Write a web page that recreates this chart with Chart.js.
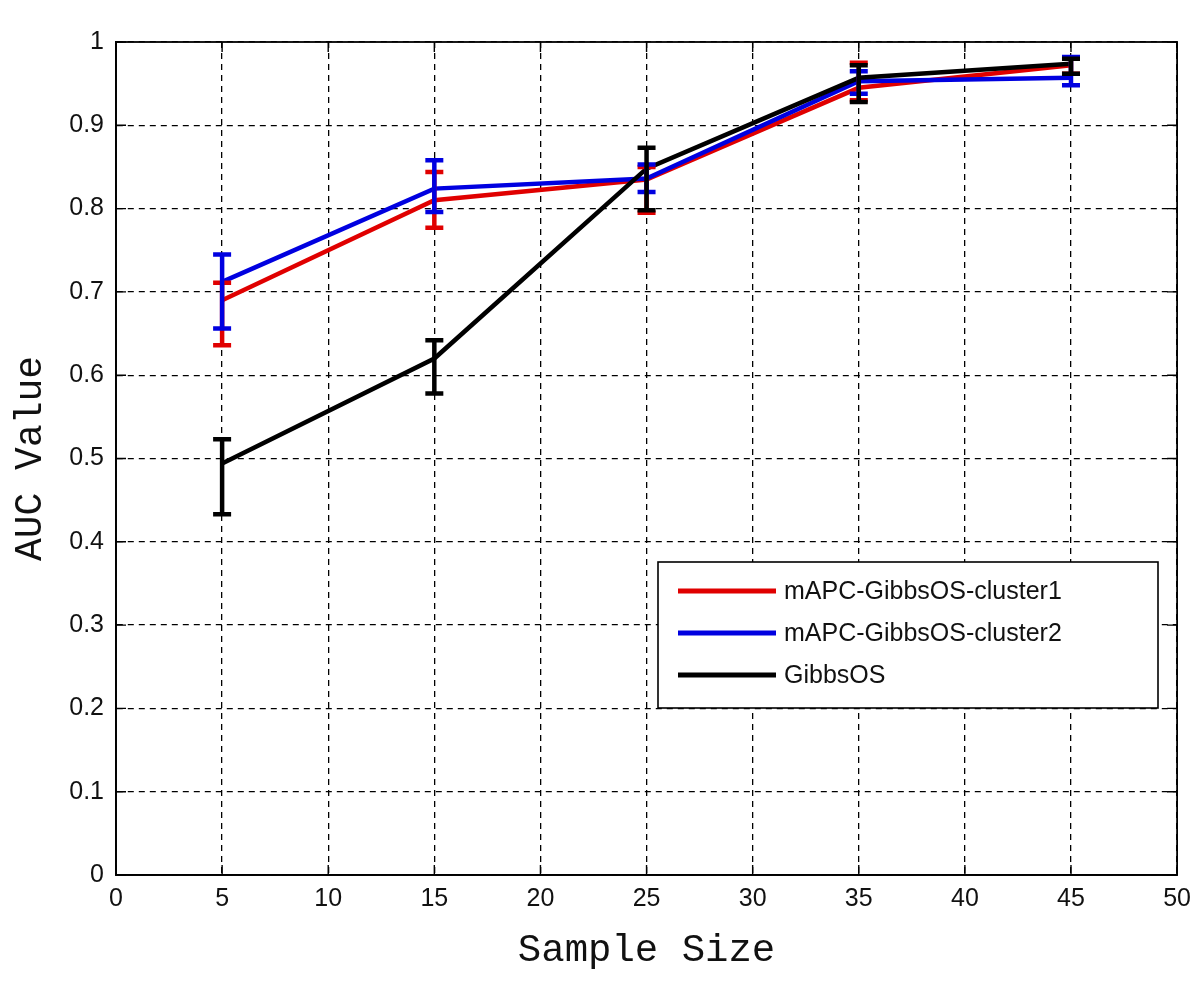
<!DOCTYPE html>
<html>
<head>
<meta charset="utf-8">
<script src="https://cdn.jsdelivr.net/npm/chart.js@4"></script>
<style>
  html, body { margin: 0; padding: 0; background: #fff; }
  #wrap { width: 1200px; height: 982px; }
</style>
</head>
<body>
<div id="wrap"><canvas id="myChart" width="1200" height="982"></canvas></div>
<script>
// sample sizes
var sampleSizes = [5, 15, 25, 35, 45];

// mAPC-GibbsOS-cluster1
var cluster1Mean  = [0.690, 0.810, 0.835, 0.945, 0.972];
var cluster1Upper = [0.711, 0.844, 0.850, 0.975, 0.980];
var cluster1Lower = [0.636, 0.777, 0.795, 0.930, 0.962];

// mAPC-GibbsOS-cluster2
var cluster2Mean  = [0.712, 0.824, 0.836, 0.953, 0.957];
var cluster2Upper = [0.745, 0.858, 0.853, 0.965, 0.982];
var cluster2Lower = [0.656, 0.796, 0.820, 0.938, 0.948];

// GibbsOS
var gibbsMean  = [0.494, 0.620, 0.848, 0.957, 0.974];
var gibbsUpper = [0.523, 0.642, 0.873, 0.972, 0.980];
var gibbsLower = [0.433, 0.578, 0.798, 0.928, 0.962];

var xTicks = [0, 5, 10, 15, 20, 25, 30, 35, 40, 45, 50];
var yTicks = [0, 0.1, 0.2, 0.3, 0.4, 0.5, 0.6, 0.7, 0.8, 0.9, 1];

function pts(ys) {
    return sampleSizes.map(function (x, i) { return {x: x, y: ys[i]}; });
}

var errorBars = {
    id: 'errorBars',
    afterDatasetsDraw: function (chart) {
        var ctx = chart.ctx;
        var xs = chart.scales.x, ys = chart.scales.y;
        // draw red, blue, black in that order
        [0, 1, 2].forEach(function (di) {
            var ds = chart.data.datasets[di];
            ctx.save();
            ctx.strokeStyle = ds.borderColor;
            ctx.lineWidth = 4.5;
            sampleSizes.forEach(function (x, i) {
                var px = xs.getPixelForValue(x);
                var top = ys.getPixelForValue(ds.upper[i]);
                var bot = ys.getPixelForValue(ds.lower[i]);
                ctx.beginPath();
                ctx.moveTo(px, top); ctx.lineTo(px, bot);
                ctx.moveTo(px - 9, top); ctx.lineTo(px + 9, top);
                ctx.moveTo(px - 9, bot); ctx.lineTo(px + 9, bot);
                ctx.stroke();
            });
            ctx.restore();
        });
    }
};

var frame = {
    id: 'frame',
    afterDraw: function (chart) {
        var ctx = chart.ctx, a = chart.chartArea;
        var xs = chart.scales.x, ys = chart.scales.y;
        ctx.save();
        ctx.strokeStyle = '#000';
        ctx.lineWidth = 1.8;
        ctx.strokeRect(a.left, a.top, a.right - a.left, a.bottom - a.top);
        // inward ticks on all sides
        ctx.lineWidth = 1.4;
        ctx.beginPath();
        xTicks.forEach(function (v) {
            var px = xs.getPixelForValue(v);
            ctx.moveTo(px, a.bottom); ctx.lineTo(px, a.bottom - 10);
            ctx.moveTo(px, a.top); ctx.lineTo(px, a.top + 10);
        });
        yTicks.forEach(function (v) {
            var py = ys.getPixelForValue(v);
            ctx.moveTo(a.left, py); ctx.lineTo(a.left + 10, py);
            ctx.moveTo(a.right, py); ctx.lineTo(a.right - 10, py);
        });
        ctx.stroke();

        // legend box
        var lx = 658, ly = 562, lw = 500, lh = 146;
        ctx.fillStyle = '#fff';
        ctx.fillRect(lx, ly, lw, lh);
        ctx.lineWidth = 1.6;
        ctx.strokeRect(lx, ly, lw, lh);
        ctx.font = '25px "Liberation Sans", Arial, sans-serif';
        ctx.textBaseline = 'middle';
        ctx.textAlign = 'left';
        chart.data.datasets.forEach(function (ds, i) {
            var y = 591 + i * 42;
            ctx.strokeStyle = ds.borderColor;
            ctx.lineWidth = 5;
            ctx.beginPath();
            ctx.moveTo(678, y); ctx.lineTo(776, y);
            ctx.stroke();
            ctx.fillStyle = '#111';
            ctx.fillText(ds.label, 784, y + 1);
        });
        ctx.restore();
    }
};

var ctx = document.getElementById('myChart').getContext('2d');
var myChart = new Chart(ctx, {
    type: 'line',
    data: {
        datasets: [{
            label: 'mAPC-GibbsOS-cluster1',
            data: pts(cluster1Mean),
            upper: cluster1Upper,
            lower: cluster1Lower,
            borderColor: '#e00000',
            backgroundColor: '#e00000',
            order: 3
        }, {
            label: 'mAPC-GibbsOS-cluster2',
            data: pts(cluster2Mean),
            upper: cluster2Upper,
            lower: cluster2Lower,
            borderColor: '#0000e0',
            backgroundColor: '#0000e0',
            order: 2
        }, {
            label: 'GibbsOS',
            data: pts(gibbsMean),
            upper: gibbsUpper,
            lower: gibbsLower,
            borderColor: '#000000',
            backgroundColor: '#000000',
            order: 1
        }]
    },
    options: {
        responsive: false,
        animation: false,
        events: [],
        elements: {
            line: { borderWidth: 4.5, tension: 0, fill: false },
            point: { radius: 0 }
        },
        layout: { padding: { left: 0, right: 20, top: 42, bottom: 0 } },
        plugins: {
            legend: { display: false },
            tooltip: { enabled: false }
        },
        scales: {
            x: {
                type: 'linear',
                min: 0, max: 50,
                afterFit: function (s) { s.height = 107; },
                afterBuildTicks: function (s) { s.ticks = xTicks.map(function (v) { return {value: v}; }); },
                ticks: {
                    padding: 9,
                    color: '#111',
                    maxRotation: 0,
                    font: { family: '"Liberation Sans Narrow", "Liberation Sans", Arial', size: 25 }
                },
                grid: { color: '#000', lineWidth: 1.3, drawTicks: false },
                border: { display: true, color: '#000', width: 1.8, dash: [6, 5] },
                title: {
                    display: true,
                    text: 'Sample Size',
                    color: '#111',
                    font: { family: '"Liberation Mono", "DejaVu Sans Mono", monospace', size: 39 },
                    padding: { top: 0, bottom: 8 }
                }
            },
            y: {
                min: 0, max: 1,
                afterFit: function (s) { s.width = 116; },
                afterBuildTicks: function (s) { s.ticks = yTicks.map(function (v) { return {value: v}; }); },
                ticks: {
                    padding: 12,
                    color: '#111',
                    font: { family: '"Liberation Sans", Arial', size: 25 },
                    callback: function (v) { return String(Math.round(v * 10) / 10); }
                },
                grid: { color: '#000', lineWidth: 1.3, drawTicks: false },
                border: { display: true, color: '#000', width: 1.8, dash: [6, 5] },
                title: {
                    display: true,
                    text: 'AUC Value',
                    color: '#111',
                    font: { family: '"Liberation Mono", "DejaVu Sans Mono", monospace', size: 38 },
                    padding: { top: 8, bottom: 0 }
                }
            }
        }
    },
    plugins: [errorBars, frame]
});
</script>
</body>
</html>
